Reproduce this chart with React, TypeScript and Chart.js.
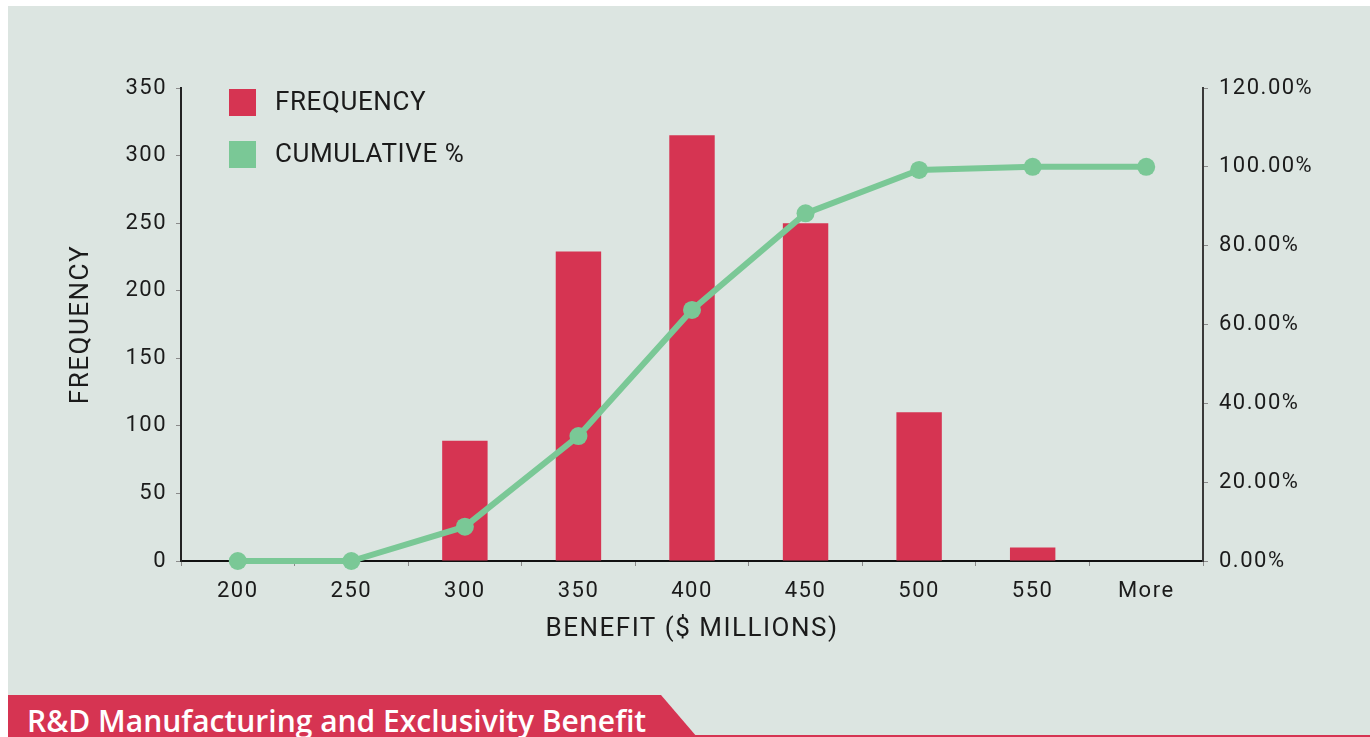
import React, { useEffect, useRef } from "react";
import { Chart, registerables } from "chart.js";

Chart.register(...registerables);

// Histogram bins of the benefit estimate ($ millions)
const binLabels: string[] = ["200", "250", "300", "350", "400", "450", "500", "550", "More"];
const frequency: number[] = [0, 0, 89, 229, 315, 250, 110, 10, 0];
const cumulativePct: number[] = [0, 0, 8.7, 31.7, 63.7, 88.2, 99.2, 100, 100];

const leftTicks = { min: 0, max: 350, step: 50 };
const rightTicks = { min: 0, max: 120, step: 20 };

const RED = "#d63452";
const GREEN = "#7ac896";
const PANEL = "#dce5e1";
const INK = "#1b1b1b";

// Wider tracking for all chart text
const tracking = {
  id: "tracking",
  beforeDraw(chart: any) {
    chart.ctx.letterSpacing = "1.5px";
  },
};

// Legend drawn inside the plot area, top-left
const innerLegend = {
  id: "innerLegend",
  afterDraw(chart: any) {
    const { ctx, chartArea } = chart;
    const items = chart.data.datasets
      .map((d: any) => ({ label: d.label, color: d.legendColor, rank: d.legendRank }))
      .sort((a: any, b: any) => a.rank - b.rank);
    ctx.save();
    ctx.letterSpacing = "0.6px";
    ctx.font = '26px Roboto, "DejaVu Sans", sans-serif';
    ctx.textBaseline = "middle";
    ctx.textAlign = "left";
    items.forEach((it: any, i: number) => {
      const x = chartArea.left + 48;
      const y = chartArea.top + 1 + i * 52;
      ctx.fillStyle = it.color;
      ctx.fillRect(x, y, 27, 27);
      ctx.fillStyle = INK;
      ctx.fillText(it.label, x + 46, y + 14);
    });
    ctx.restore();
  },
};

function ParetoChart() {
  const ref = useRef<HTMLCanvasElement | null>(null);

  useEffect(() => {
    if (!ref.current) return;
    const tickFont = { family: 'Roboto, "DejaVu Sans", sans-serif', size: 22 };
    const titleFont = { family: 'Roboto, "DejaVu Sans", sans-serif', size: 26 };
    const chart = new Chart(ref.current, {
      type: "bar",
      data: {
        labels: binLabels,
        datasets: [
          {
            type: "line",
            label: "CUMULATIVE %",
            data: cumulativePct,
            yAxisID: "y1",
            borderColor: GREEN,
            backgroundColor: GREEN,
            borderWidth: 6,
            pointRadius: 9,
            pointHoverRadius: 9,
            pointBackgroundColor: GREEN,
            pointBorderWidth: 0,
            tension: 0,
            clip: false,
            order: 0,
            legendColor: GREEN,
            legendRank: 1,
          } as any,
          {
            type: "bar",
            label: "FREQUENCY",
            data: frequency,
            yAxisID: "y",
            backgroundColor: RED,
            borderWidth: 0,
            barPercentage: 0.4,
            categoryPercentage: 1,
            order: 1,
            legendColor: RED,
            legendRank: 0,
          } as any,
        ],
      },
      options: {
        responsive: false,
        animation: false,
        layout: { padding: { top: 82, left: 0, right: 0, bottom: 0 } },
        plugins: {
          legend: { display: false },
          tooltip: { enabled: false },
        },
        scales: {
          x: {
            grid: {
              drawOnChartArea: false,
              drawTicks: true,
              tickLength: 5,
              color: "#8a8a8a",
              offset: true,
            },
            border: { display: true, color: "#111", width: 2 },
            ticks: { color: INK, font: tickFont, padding: 12, maxRotation: 0 },
            title: {
              display: true,
              text: "BENEFIT ($ MILLIONS)",
              color: INK,
              font: titleFont,
              padding: { top: 0, bottom: 50 },
            },
            afterFit(scale: any) {
              scale.height = 134;
            },
          },
          y: {
            position: "left",
            min: leftTicks.min,
            max: leftTicks.max,
            grid: {
              drawOnChartArea: false,
              drawTicks: true,
              tickLength: 5,
              color: "#8a8a8a",
            },
            border: { display: true, color: "#222", width: 2 },
            ticks: { stepSize: leftTicks.step, color: INK, font: tickFont, padding: 9 },
            title: {
              display: true,
              text: "FREQUENCY",
              color: INK,
              font: titleFont,
              padding: { top: 58, bottom: 0 },
            },
            afterFit(scale: any) {
              scale.width = 173;
            },
          },
          y1: {
            position: "right",
            min: rightTicks.min,
            max: rightTicks.max,
            grid: {
              drawOnChartArea: false,
              drawTicks: true,
              tickLength: 5,
              color: "#8a8a8a",
            },
            border: { display: true, color: "#3a3a3a", width: 2 },
            ticks: {
              stepSize: rightTicks.step,
              color: INK,
              font: tickFont,
              padding: 11,
              callback: (v: any) => Number(v).toFixed(2) + "%",
            },
            afterFit(scale: any) {
              scale.width = 167;
            },
          },
        },
      } as any,
      plugins: [tracking, innerLegend],
    });
    return () => chart.destroy();
  }, []);

  return <canvas ref={ref} width={1362} height={689} style={{ display: "block" }} />;
}

export default function App() {
  return (
    <div
      style={{
        position: "relative",
        width: 1370,
        height: 737,
        background: "#ffffff",
        overflow: "hidden",
      }}
    >
      <style>{`body{margin:0}`}</style>
      <div
        style={{
          position: "absolute",
          left: 8,
          top: 6,
          width: 1362,
          height: 731,
          background: PANEL,
        }}
      />
      <div
        style={{
          position: "absolute",
          left: 8,
          top: 735,
          width: 1362,
          height: 2,
          background: RED,
        }}
      />
      <div style={{ position: "absolute", left: 8, top: 6, width: 1362, height: 689 }}>
        <ParetoChart />
      </div>
      <div
        style={{
          position: "absolute",
          left: 8,
          top: 695,
          width: 690,
          height: 42,
          background: RED,
          clipPath: "polygon(0 0, 653px 0, 689px 42px, 0 42px)",
        }}
      >
        <span
          style={{
            position: "absolute",
            left: 19,
            top: 11,
            whiteSpace: "nowrap",
            color: "#ffffff",
            font: '600 30px/30px "Open Sans", "DejaVu Sans", sans-serif',
          }}
        >
          R&amp;D Manufacturing and Exclusivity Benefit
        </span>
      </div>
    </div>
  );
}
